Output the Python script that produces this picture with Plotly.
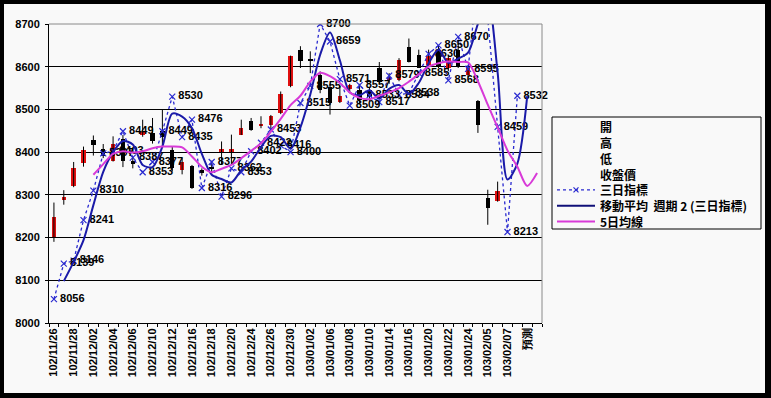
import plotly.graph_objects as go

dates = ["102/11/26", "102/11/27", "102/11/28", "102/11/29", "102/12/02", "102/12/03",
         "102/12/04", "102/12/05", "102/12/06", "102/12/09", "102/12/10", "102/12/11",
         "102/12/12", "102/12/13", "102/12/16", "102/12/17", "102/12/18", "102/12/19",
         "102/12/20", "102/12/23", "102/12/24", "102/12/25", "102/12/26", "102/12/27",
         "102/12/30", "102/12/31", "103/01/02", "103/01/03", "103/01/06", "103/01/07",
         "103/01/08", "103/01/09", "103/01/10", "103/01/13", "103/01/14", "103/01/15",
         "103/01/16", "103/01/17", "103/01/20", "103/01/21", "103/01/22", "103/01/23",
         "103/01/24", "103/01/27", "103/02/05", "103/02/06", "103/02/07", "103/02/10",
         "預測", ""]

open_ = [8201, 8288, 8321, 8374, 8429, 8407, 8380, 8430, 8380, 8440, 8445, 8449,
         8405, 8359, 8367, 8358, 8365, 8400, 8400, 8441, 8472, 8462, 8464, 8491,
         8554, 8638, 8618, 8581, 8553, 8518, 8548, 8545, 8545, 8596, 8570, 8569,
         8647, 8628, 8605, 8640, 8597, 8640, 8581, 8519, 8292, 8286]
high = [8282, 8311, 8377, 8413, 8439, 8419, 8437, 8440, 8390, 8476, 8480, 8500,
        8412, 8386, 8370, 8362, 8380, 8425, 8441, 8476, 8480, 8484, 8487, 8542,
        8626, 8648, 8636, 8589, 8560, 8555, 8560, 8560, 8550, 8611, 8585, 8620,
        8666, 8640, 8640, 8650, 8625, 8655, 8600, 8522, 8312, 8331]
low = [8190, 8277, 8318, 8366, 8392, 8386, 8378, 8365, 8362, 8436, 8420, 8413,
       8355, 8348, 8314, 8345, 8350, 8370, 8370, 8440, 8450, 8456, 8452, 8489,
       8552, 8597, 8585, 8538, 8488, 8515, 8540, 8512, 8520, 8559, 8560, 8566,
       8610, 8597, 8600, 8597, 8590, 8597, 8575, 8445, 8230, 8284]
close = [8249, 8296, 8362, 8405, 8416, 8391, 8419, 8380, 8372, 8448, 8426, 8436,
         8362, 8378, 8316, 8352, 8360, 8407, 8407, 8456, 8452, 8466, 8484, 8536,
         8624, 8614, 8614, 8546, 8514, 8532, 8557, 8523, 8530, 8565, 8575, 8616,
         8612, 8597, 8624, 8600, 8620, 8600, 8597, 8464, 8269, 8310]

three_day = [8056, 8139, 8146, 8241, 8310, 8397, 8403, 8449, 8387, 8353, 8377, 8449,
             8530, 8435, 8476, 8316, 8377, 8296, 8362, 8353, 8402, 8422, 8453, 8416,
             8400, 8515, 8555, 8700, 8659, 8571, 8509, 8557, 8533, 8517, 8579, 8534,
             8538, 8585, 8630, 8650, 8568, 8670, 8595, 8805, 8712, 8459, 8213, 8532]

ma2 = [None, 8098, 8143, 8194, 8276, 8354, 8400, 8426, 8418, 8370, 8365, 8413,
       8490, 8483, 8456, 8396, 8347, 8337, 8329, 8358, 8378, 8412, 8438, 8435,
       8408, 8458, 8535, 8628, 8680, 8615, 8540, 8533, 8545, 8525, 8548, 8557,
       8536, 8562, 8608, 8640, 8609, 8619, 8633, 8700, 8759, 8586, 8336, 8373, 8531]

ma5 = [None, None, None, None, 8347, 8372, 8396, 8402, 8399, 8402, 8409, 8413,
       8413, 8411, 8390, 8366, 8353, 8361, 8370, 8386, 8403, 8421, 8448, 8478,
       8510, 8532, 8565, 8586, 8578, 8562, 8540, 8527, 8524, 8532, 8540, 8550,
       8565, 8582, 8600, 8608, 8612, 8611, 8610, 8566, 8511, 8458, 8404, 8366,
       8321, 8351]

y_ticks = [8000, 8100, 8200, 8300, 8400, 8500, 8600, 8700]

legend_names = ["開", "高", "低", "收盤價", "三日指標", "移動平均  週期 2 (三日指標)", "5日均線"]

BG = "#f9f9f9"
RED = "#e01010"
BLUE_DOT = "#2a2ad0"
BLUE_MA = "#1a1aa8"
BLUE_LEG = "#101078"
MAGENTA = "#d83ad8"
TICK_FONT = dict(family="Liberation Sans", size=11, color="black", weight="bold")

n = len(open_)
xi = list(range(n))

fig = go.Figure()

# high-low wicks
wx, wy = [], []
for i in xi:
    wx += [i, i, None]
    wy += [low[i], high[i], None]
fig.add_trace(go.Scatter(x=wx, y=wy, mode="lines", showlegend=False,
                         line=dict(color="black", width=1), hoverinfo="skip"))

# candle bodies
base = [min(o, c) for o, c in zip(open_, close)]
height = [max(abs(c - o), 2) for o, c in zip(open_, close)]
colors = [RED if c >= o else "black" for o, c in zip(open_, close)]
fig.add_trace(go.Bar(x=xi, y=height, base=base, width=0.45,
                     marker=dict(color=colors, line=dict(width=0)), showlegend=False))

# 三日指標
tx = list(range(len(three_day)))
fig.add_trace(go.Scatter(x=tx, y=three_day, mode="lines+markers", name=legend_names[4],
                         line=dict(color=BLUE_DOT, width=1.3, dash="dot"),
                         marker=dict(symbol="x-thin", size=6, line=dict(color=BLUE_DOT, width=1.2),
                                     color=BLUE_DOT),
                         cliponaxis=True, showlegend=False))
vis = [v if v <= 8700 else None for v in three_day]
fig.add_trace(go.Scatter(x=tx, y=vis, mode="text",
                         text=["\u00a0\u00a0" + str(v) for v in three_day],
                         textposition="middle right", showlegend=False, cliponaxis=False,
                         textfont=dict(family="Liberation Sans", size=11, color="black", weight="bold")))

# moving average (period 2) and 5-day line
fig.add_trace(go.Scatter(x=list(range(len(ma2))), y=ma2, mode="lines", name=legend_names[5],
                         line=dict(color=BLUE_MA, width=2, shape="spline", smoothing=0.8),
                         showlegend=False))
fig.add_trace(go.Scatter(x=list(range(len(ma5))), y=ma5, mode="lines", name=legend_names[6],
                         line=dict(color=MAGENTA, width=2, shape="spline", smoothing=0.8),
                         showlegend=False))

L, R, T, B = 49, 229, 24, 75
W, H = 771, 398
pw, ph = W - L - R, H - T - B


def px(x):
    return (x - L) / pw


def py(y):
    return (H - B - y) / ph


shapes = []
# frame interior
shapes.append(dict(type="rect", xref="paper", yref="paper", x0=px(4), x1=px(765), y0=py(393), y1=py(4),
                   fillcolor=BG, line=dict(width=0), layer="below"))
# plot area border (top / right)
shapes.append(dict(type="path", xref="paper", yref="paper", path="M 0,1 L 1,1 L 1,0",
                   line=dict(color="#8a8a8a", width=1), layer="above"))
# legend box
shapes.append(dict(type="rect", xref="paper", yref="paper", x0=px(552), x1=px(761), y0=py(229), y1=py(117),
                   fillcolor=BG, line=dict(color="black", width=1), layer="above"))

row_y = [126.7, 142.5, 158.3, 174.1, 189.9, 205.7, 221.5]
sx0, sx1 = 557, 595
# legend symbols
shapes.append(dict(type="line", xref="paper", yref="paper", x0=px(sx0), x1=px(sx1),
                   y0=py(row_y[4]), y1=py(row_y[4]), line=dict(color=BLUE_DOT, width=1.3, dash="dot"),
                   layer="above"))
mx, my, d = 576, row_y[4], 2.5
shapes.append(dict(type="path", xref="paper", yref="paper",
                   path=f"M {px(mx-d)},{py(my-d)} L {px(mx+d)},{py(my+d)} M {px(mx-d)},{py(my+d)} L {px(mx+d)},{py(my-d)}",
                   line=dict(color=BLUE_DOT, width=1.2), layer="above"))
shapes.append(dict(type="line", xref="paper", yref="paper", x0=px(sx0), x1=px(sx1),
                   y0=py(row_y[5]), y1=py(row_y[5]), line=dict(color=BLUE_LEG, width=2), layer="above"))
shapes.append(dict(type="line", xref="paper", yref="paper", x0=px(sx0), x1=px(sx1),
                   y0=py(row_y[6]), y1=py(row_y[6]), line=dict(color=MAGENTA, width=2), layer="above"))

annotations = []
for name, yy in zip(legend_names, row_y):
    annotations.append(dict(x=px(599), y=py(yy), xref="paper", yref="paper", text=name,
                            showarrow=False, xanchor="left", yanchor="middle", borderpad=0,
                            font=dict(family="Noto Sans CJK TC", size=12, color="black", weight="bold")))

fig.update_layout(
    width=W, height=H,
    margin=dict(l=L, r=R, t=T, b=B, pad=0, autoexpand=False),
    paper_bgcolor="black", plot_bgcolor=BG,
    showlegend=False,
    bargap=0,
    shapes=shapes,
    annotations=annotations,
)
fig.update_xaxes(range=[-0.5, 49.5], tickmode="array",
                 tickvals=list(range(0, len(dates), 2)),
                 ticktext=[dates[i] for i in range(0, len(dates), 2)],
                 tickangle=-90, tickfont=TICK_FONT, ticks="",
                 showline=True, linecolor="black", linewidth=1, showgrid=False, zeroline=False,
                 automargin=False,
                 minor=dict(ticks="outside", tick0=-0.5, dtick=1, ticklen=3, tickcolor="black",
                            showgrid=False))
fig.update_yaxes(range=[8000, 8700], tickmode="array", tickvals=y_ticks,
                 ticktext=[str(v) for v in y_ticks], tickfont=TICK_FONT,
                 ticks="outside", ticklen=3, tickcolor="black", ticklabelstandoff=3,
                 showline=True, linecolor="black", linewidth=1, automargin=False,
                 showgrid=True, gridcolor="black", gridwidth=1, zeroline=False)

fig.write_html("out.html", config={"displayModeBar": False},
               post_script="document.body.style.margin='0';")
